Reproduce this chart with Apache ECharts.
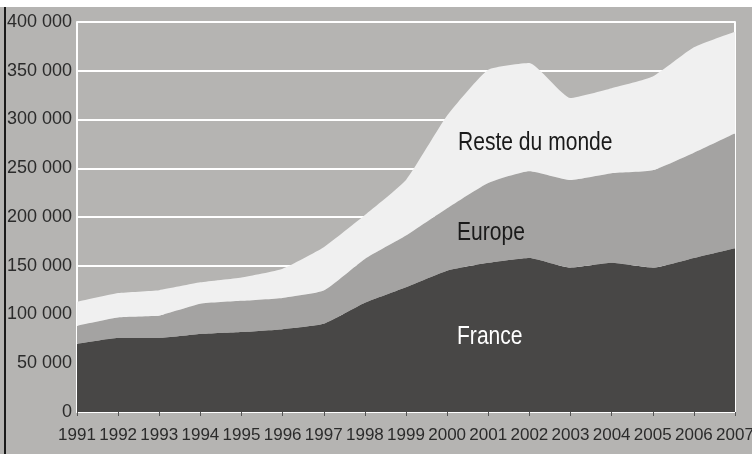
<!DOCTYPE html>
<html>
<head>
<meta charset="utf-8">
<script src="https://cdn.jsdelivr.net/npm/echarts@6/dist/echarts.min.js"></script>
<style>
  html, body { margin: 0; padding: 0; background: #ffffff; }
  #main { width: 752px; height: 454px; }
</style>
</head>
<body>
<div id="main"></div>
<script>
    // années
    var years = ['1991','1992','1993','1994','1995','1996','1997','1998','1999','2000','2001','2002','2003','2004','2005','2006','2007'];
    // France
    var france = [70000, 76000, 76000, 80000, 82000, 85000, 90500, 112000, 128000, 145000, 153000, 158000, 148000, 153000, 148000, 158000, 168000];
    // Europe (part au-dessus de la France)
    var europe = [18500, 21000, 23000, 31000, 32000, 32000, 34000, 45000, 53000, 64000, 82000, 89000, 90000, 92000, 100000, 108000, 118000];
    // Reste du monde (part au-dessus de l'Europe)
    var reste = [24500, 25000, 26000, 22000, 24000, 30000, 44500, 45000, 57000, 95000, 116000, 111000, 84000, 87000, 96000, 108000, 104000];

    var sans = "'Liberation Sans', Arial, sans-serif";

    var myChart = echarts.init(document.getElementById('main'));

    function fmt(v) {
        return String(v).replace(/\B(?=(\d{3})+(?!\d))/g, ' ');
    }

    // étiquettes de zones, police resserrée par scaleX
    function label(txt, x, y, color) {
        return {
            type: 'text', x: x, y: y, scaleX: 0.81, z: 100,
            style: { text: txt, fill: color, font: '26px ' + sans, textAlign: 'left', textVerticalAlign: 'middle' }
        };
    }

    var option = {
        backgroundColor: '#b5b4b2',
        animation: false,
        grid: {
            left: 77,
            right: 17,
            top: 22,
            bottom: 42,
            outerBoundsMode: 'none'
        },
        xAxis: {
            type: 'category',
            data: years,
            boundaryGap: false,
            axisLine: { show: true, lineStyle: { color: '#ffffff', width: 2 } },
            axisTick: { show: true, alignWithLabel: true, length: 4, lineStyle: { color: '#555555', width: 1 } },
            axisLabel: { interval: 0, margin: 15, color: '#2b2b2b', fontSize: 17, fontFamily: sans },
            splitLine: { show: false }
        },
        yAxis: [
            {
                type: 'value',
                min: 0,
                max: 400000,
                interval: 50000,
                axisLine: { show: true, lineStyle: { color: '#ffffff', width: 2 } },
                axisTick: { show: false },
                axisLabel: { margin: 5, color: '#2b2b2b', fontSize: 18, fontFamily: sans, formatter: fmt },
                splitLine: { show: true, lineStyle: { color: '#ffffff', width: 2 } }
            },
            {
                type: 'value',
                position: 'right',
                min: 0,
                max: 400000,
                axisLine: { show: true, lineStyle: { color: '#ffffff', width: 2 } },
                axisTick: { show: false },
                axisLabel: { show: false },
                splitLine: { show: false }
            }
        ],
        series: [
            {
                name: 'France',
                type: 'line',
                stack: 'total',
                data: france,
                smooth: 0.15,
                symbol: 'none',
                lineStyle: { width: 0 },
                areaStyle: { color: '#484746', opacity: 1 }
            },
            {
                name: 'Europe',
                type: 'line',
                stack: 'total',
                data: europe,
                smooth: 0.15,
                symbol: 'none',
                lineStyle: { width: 0 },
                areaStyle: { color: '#a4a3a2', opacity: 1 }
            },
            {
                name: 'Reste du monde',
                type: 'line',
                stack: 'total',
                data: reste,
                smooth: 0.15,
                symbol: 'none',
                lineStyle: { width: 0 },
                areaStyle: { color: '#f0f0f0', opacity: 1 }
            }
        ],
        graphic: [
            { type: 'rect', shape: { x: 0, y: 0, width: 752, height: 7 }, style: { fill: '#ffffff' }, z: 100 },
            { type: 'rect', shape: { x: 4, y: 7, width: 2, height: 447 }, style: { fill: '#1a1a1a' }, z: 100 },
            label('Reste du monde', 458, 143, '#1a1a1a'),
            label('Europe', 457, 233, '#1a1a1a'),
            label('France', 457, 337, '#ffffff')
        ]
    };
    myChart.setOption(option);
</script>
</body>
</html>
